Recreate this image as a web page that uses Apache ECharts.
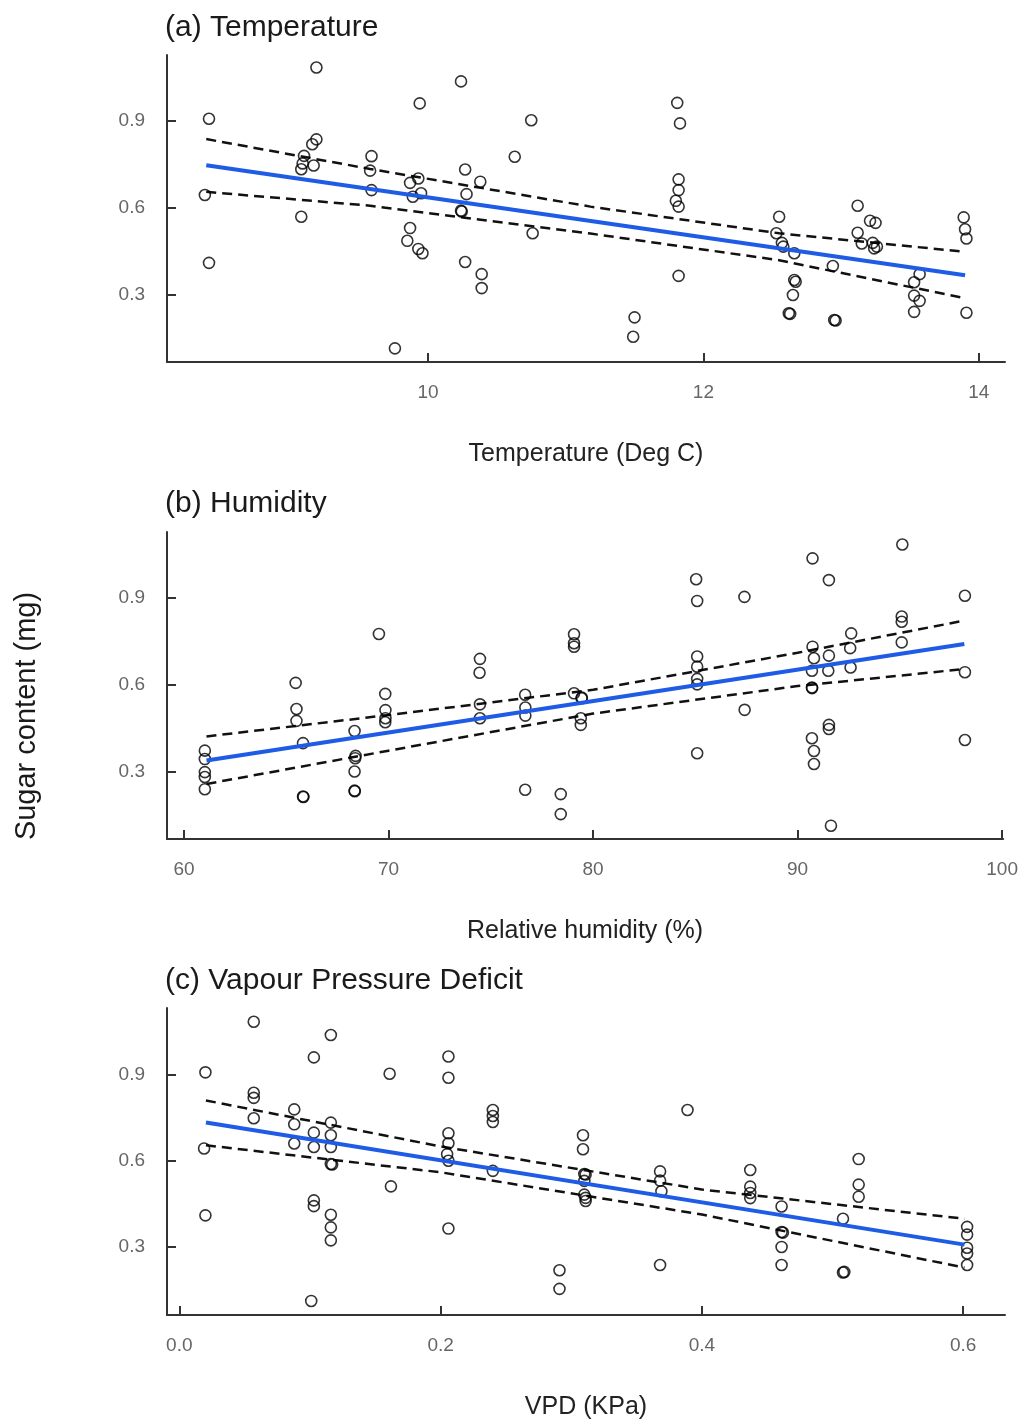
<!DOCTYPE html>
<html><head><meta charset="utf-8">
<script src="https://cdn.jsdelivr.net/npm/echarts@6/dist/echarts.min.js"></script>
<style>html,body{margin:0;padding:0;background:#fff}#chart{width:1021px;height:1421px}</style>
</head><body><div id="chart"></div>
<script>
// ---- tick labels ----
const sugarTicks = [0.3, 0.6, 0.9];
const tempTicks = [10, 12, 14];
const humTicks = [60, 70, 80, 90, 100];
const vpdTicks = [0, 0.2, 0.4, 0.6];

// ---- titles / axis names ----
const panelTitles = ['(a) Temperature', '(b) Humidity', '(c) Vapour Pressure Deficit'];
const xNames = ['Temperature (Deg C)', 'Relative humidity (%)', 'VPD (KPa)'];
const yName = 'Sugar content (mg)';

// ---- (a) temperature ----
const tempX = [8.41,8.38,8.41,9.19,9.16,9.19,9.10,9.09,9.08,9.17,9.08,9.59,9.58,9.59,10.24,9.94,9.93,9.87,9.89,9.95,9.87,9.85,9.93,9.96,9.76,10.27,10.28,10.38,10.24,10.245,10.27,10.39,10.39,10.63,10.75,10.76,11.81,11.83,11.82,11.82,11.80,11.82,11.82,11.50,11.49,12.55,12.53,12.57,12.58,12.66,12.66,12.67,12.65,12.62,12.63,12.94,12.95,12.96,13.12,13.21,13.25,13.12,13.15,13.23,13.24,13.26,13.57,13.53,13.53,13.57,13.53,13.89,13.90,13.91,13.91];
const tempSugar = [0.908,0.645,0.411,1.085,0.820,0.837,0.780,0.754,0.734,0.747,0.570,0.779,0.729,0.662,1.037,0.961,0.702,0.687,0.639,0.651,0.531,0.487,0.459,0.444,0.116,0.733,0.648,0.691,0.591,0.588,0.414,0.372,0.324,0.777,0.903,0.513,0.963,0.892,0.699,0.662,0.625,0.605,0.366,0.223,0.156,0.570,0.513,0.480,0.467,0.444,0.352,0.346,0.300,0.237,0.235,0.400,0.214,0.212,0.608,0.556,0.549,0.515,0.478,0.480,0.461,0.467,0.372,0.344,0.298,0.280,0.242,0.568,0.527,0.495,0.239];
const tempFitX = [8.39, 9.58, 11.18, 12.55, 13.90];
const tempFit = [0.748, 0.668, 0.557, 0.465, 0.368];
const tempUpper = [0.838, 0.735, 0.605, 0.513, 0.449];
const tempLower = [0.656, 0.608, 0.512, 0.420, 0.289];

// ---- (b) humidity ----
const humX = [61.02,61.02,61.02,61.02,61.02,65.46,65.50,65.50,65.82,65.82,65.84,69.53,69.84,69.85,69.85,69.84,68.34,68.39,68.37,68.34,68.34,68.35,74.47,74.45,74.47,74.47,76.68,76.69,76.69,76.68,78.42,78.42,79.07,79.07,79.07,79.07,79.45,79.44,79.40,79.40,85.04,85.09,85.09,85.09,85.09,85.09,85.09,87.40,87.41,90.73,90.73,90.80,90.70,90.70,90.71,90.70,90.80,90.80,91.53,91.53,91.50,91.53,91.53,91.63,92.62,92.57,92.59,95.12,95.09,95.09,95.09,98.18,98.18,98.18];
const humSugar = [0.372,0.343,0.298,0.281,0.239,0.606,0.516,0.475,0.398,0.214,0.212,0.775,0.568,0.512,0.484,0.470,0.440,0.354,0.346,0.300,0.234,0.232,0.689,0.641,0.532,0.484,0.565,0.521,0.493,0.237,0.222,0.153,0.774,0.743,0.731,0.570,0.555,0.553,0.484,0.461,0.964,0.889,0.697,0.662,0.620,0.601,0.363,0.903,0.513,1.036,0.731,0.691,0.648,0.590,0.588,0.415,0.371,0.326,0.961,0.700,0.648,0.461,0.447,0.113,0.777,0.726,0.659,1.084,0.835,0.817,0.746,0.907,0.643,0.409];
const humFitX = [61.1, 70, 80, 90, 98.15];
const humFit = [0.338, 0.435, 0.543, 0.652, 0.740];
const humUpper = [0.421, 0.495, 0.582, 0.710, 0.821];
const humLower = [0.257, 0.372, 0.500, 0.595, 0.654];

// ---- (c) VPD ----
const vpdX = [0.020,0.019,0.020,0.057,0.057,0.057,0.057,0.116,0.103,0.088,0.088,0.088,0.103,0.103,0.116,0.116,0.116,0.116,0.117,0.103,0.103,0.116,0.116,0.116,0.101,0.161,0.162,0.206,0.206,0.206,0.206,0.205,0.206,0.206,0.240,0.240,0.240,0.240,0.291,0.291,0.309,0.309,0.310,0.311,0.310,0.310,0.311,0.311,0.389,0.368,0.368,0.369,0.368,0.437,0.437,0.437,0.437,0.461,0.461,0.462,0.461,0.461,0.508,0.508,0.509,0.520,0.520,0.520,0.603,0.603,0.603,0.603,0.603];
const vpdSugar = [0.908,0.643,0.410,1.084,0.837,0.819,0.748,1.038,0.960,0.779,0.727,0.660,0.698,0.648,0.733,0.689,0.648,0.589,0.587,0.462,0.442,0.412,0.368,0.323,0.112,0.903,0.511,0.963,0.889,0.696,0.661,0.623,0.600,0.364,0.777,0.756,0.735,0.565,0.219,0.154,0.689,0.640,0.554,0.552,0.530,0.482,0.471,0.460,0.777,0.563,0.531,0.494,0.237,0.568,0.510,0.488,0.470,0.441,0.352,0.350,0.300,0.237,0.398,0.211,0.213,0.606,0.517,0.475,0.370,0.343,0.297,0.277,0.237];
const vpdFitX = [0.0204, 0.2, 0.4, 0.601];
const vpdFit = [0.733, 0.603, 0.455, 0.308];
const vpdUpper = [0.810, 0.650, 0.500, 0.398];
const vpdLower = [0.654, 0.560, 0.413, 0.228];

// ---- build ----
const FONT = '"Liberation Sans", Arial, Helvetica, sans-serif';
const zip = (a, b) => a.map((v, i) => [v, b[i]]);

const panels = [
  {x: tempX, y: tempSugar, fx: tempFitX, fit: tempFit, up: tempUpper, lo: tempLower, ticks: tempTicks,
   xmin: 8.105, xmax: 14.19, ymin: 0.069, ymax: 1.128, top: 55, h: 307, titleTop: 8, fmt: v => String(v)},
  {x: humX, y: humSugar, fx: humFitX, fit: humFit, up: humUpper, lo: humLower, ticks: humTicks,
   xmin: 59.17, xmax: 100.05, ymin: 0.067, ymax: 1.127, top: 532, h: 307, titleTop: 484, fmt: v => String(v)},
  {x: vpdX, y: vpdSugar, fx: vpdFitX, fit: vpdFit, up: vpdUpper, lo: vpdLower, ticks: vpdTicks,
   xmin: -0.0094, xmax: 0.632, ymin: 0.063, ymax: 1.132, top: 1008, h: 309, titleTop: 961, fmt: v => Number(v).toFixed(1)}
];

const AX = '#333';
const grids = [], xAxes = [], yAxes = [], series = [], titles = [];
panels.forEach((p, i) => {
  grids.push({left: 167, width: 838, top: p.top, height: p.h, containLabel: false});
  titles.push({text: panelTitles[i], left: 160, top: p.titleTop,
    textStyle: {fontFamily: FONT, fontSize: 30, fontWeight: 'normal', color: '#1a1a1a', lineHeight: 30}});
  xAxes.push({
    gridIndex: i, type: 'value', min: p.xmin, max: p.xmax,
    name: xNames[i], nameLocation: 'middle', nameGap: 80,
    nameTextStyle: {fontFamily: FONT, fontSize: 25, color: '#222'},
    axisLine: {show: true, onZero: false, lineStyle: {color: AX, width: 2}},
    axisTick: {show: true, inside: true, length: 9, lineStyle: {color: AX, width: 2}, customValues: p.ticks},
    axisLabel: {show: true, margin: 21, fontFamily: FONT, fontSize: 19, color: '#666', customValues: p.ticks, formatter: p.fmt},
    splitLine: {show: false}
  });
  yAxes.push({
    gridIndex: i, type: 'value', min: p.ymin, max: p.ymax,
    axisLine: {show: true, onZero: false, lineStyle: {color: AX, width: 2}},
    axisTick: {show: true, inside: true, length: 9, lineStyle: {color: AX, width: 2}, customValues: sugarTicks},
    axisLabel: {show: true, margin: 22, fontFamily: FONT, fontSize: 19, color: '#666', customValues: sugarTicks, formatter: v => Number(v).toFixed(1)},
    splitLine: {show: false}
  });
  series.push({
    type: 'scatter', xAxisIndex: i, yAxisIndex: i, data: zip(p.x, p.y),
    symbol: 'circle', symbolSize: 11,
    itemStyle: {color: 'rgba(0,0,0,0)', borderColor: '#000', borderWidth: 1.6},
    z: 3
  });
  series.push({
    type: 'line', xAxisIndex: i, yAxisIndex: i, data: zip(p.fx, p.up), showSymbol: false, symbol: 'none',
    lineStyle: {color: '#111', width: 2.5, type: [10, 6]}, z: 2
  });
  series.push({
    type: 'line', xAxisIndex: i, yAxisIndex: i, data: zip(p.fx, p.lo), showSymbol: false, symbol: 'none',
    lineStyle: {color: '#111', width: 2.5, type: [10, 6]}, z: 2
  });
  series.push({
    type: 'line', xAxisIndex: i, yAxisIndex: i, data: zip([p.fx[0], p.fx[p.fx.length - 1]], [p.fit[0], p.fit[p.fit.length - 1]]),
    showSymbol: false, symbol: 'none',
    lineStyle: {color: '#1f5ce6', width: 4}, z: 4
  });
});

const chart = echarts.init(document.getElementById('chart'), null, {renderer: 'canvas'});
chart.setOption({
  backgroundColor: '#fff',
  animation: false,
  title: titles,
  grid: grids,
  xAxis: xAxes,
  yAxis: yAxes,
  series: series,
  graphic: [{
    type: 'text', x: 27, y: 716, rotation: Math.PI / 2,
    style: {text: yName, fontFamily: FONT, fontSize: 29, fill: '#1a1a1a', align: 'center', verticalAlign: 'middle'}
  }]
});
</script>
</body></html>
